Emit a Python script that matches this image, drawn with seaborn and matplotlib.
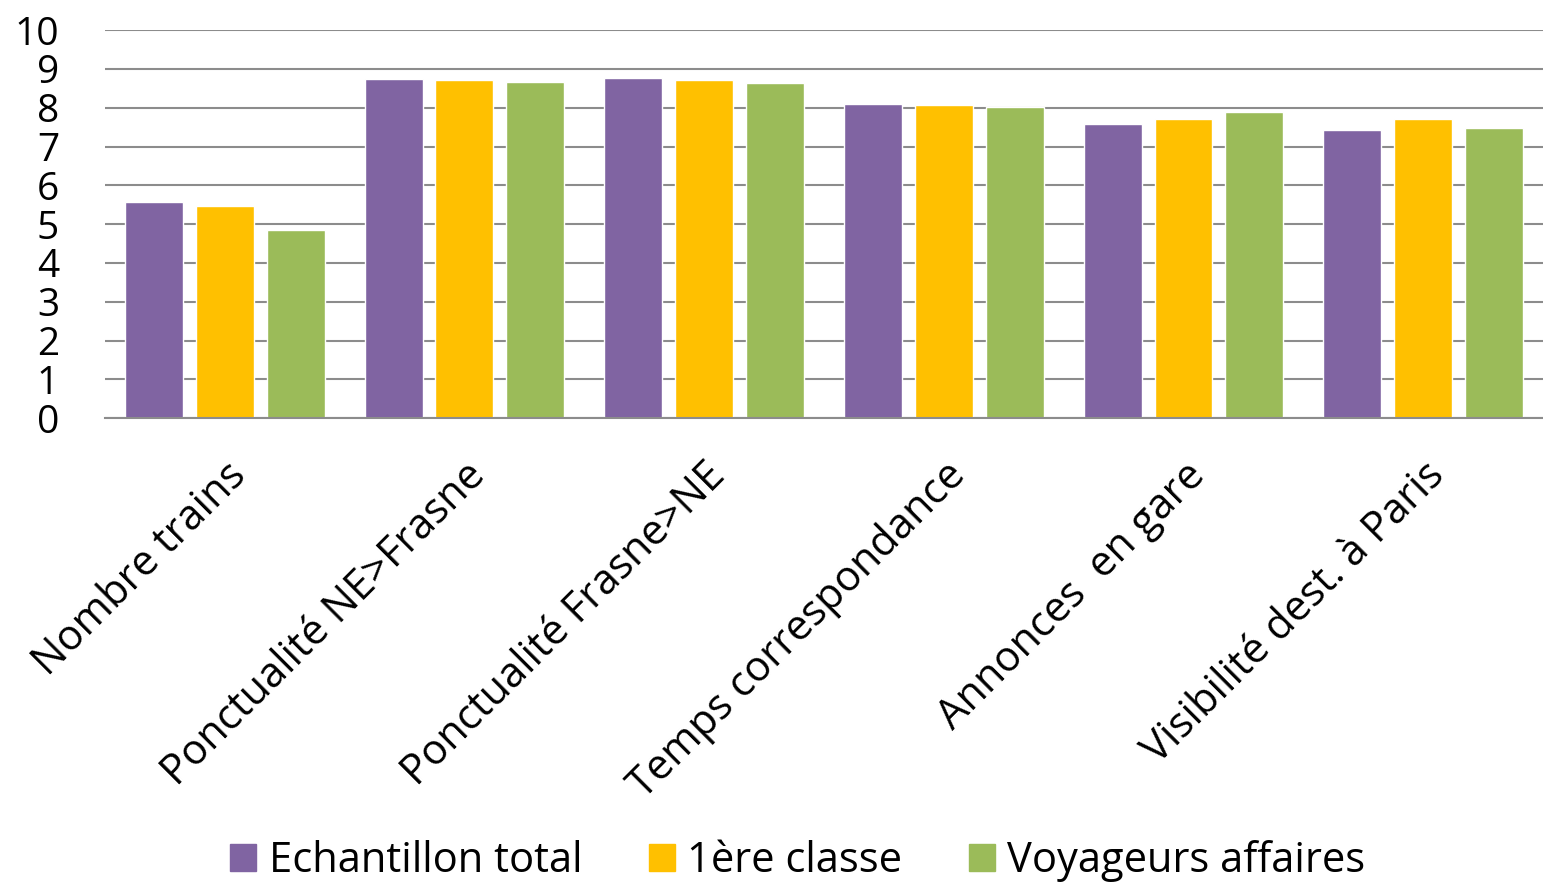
import pandas as pd
import matplotlib.pyplot as plt
import seaborn as sns
from matplotlib.patches import Patch

categories = ['Nombre trains', 'Ponctualité NE>Frasne', 'Ponctualité Frasne>NE',
              'Temps correspondance', 'Annonces  en gare', 'Visibilité dest. à Paris']
series_names = ['Echantillon total', '1ère classe', 'Voyageurs affaires']
total = [5.56, 8.75, 8.76, 8.10, 7.58, 7.43]
premiere = [5.48, 8.72, 8.71, 8.07, 7.72, 7.70]
affaires = [4.85, 8.66, 8.65, 8.03, 7.90, 7.49]
colors = ['#8064A2', '#FFC000', '#9BBB59']

sns.set_theme(style='white')
plt.rcParams['font.family'] = ['Open Sans', 'DejaVu Sans']
plt.rcParams['text.color'] = 'black'

df = pd.DataFrame({'cat': categories * 3,
                   'serie': sum([[s] * len(categories) for s in series_names], []),
                   'val': total + premiere + affaires})

fig = plt.figure(figsize=(15.43, 8.86), dpi=100)
ax = fig.add_axes([0.068, 0.528, 0.932, 0.438])

sns.barplot(data=df, x='cat', y='val', hue='serie', palette=colors,
            width=0.8875, gap=0.183, ax=ax, legend=False, saturation=1)

ax.set_ylim(0, 10)
ax.set_xlim(-0.5, 5.5)
ax.set_yticks(range(0, 11))
ax.yaxis.grid(True, color='#8c8c8c', linewidth=1.5)
ax.set_axisbelow(True)
for s in ['left', 'right', 'top']:
    ax.spines[s].set_visible(False)
ax.spines['bottom'].set_color('#8c8c8c')
ax.spines['bottom'].set_linewidth(1.5)
ax.tick_params(axis='y', length=0, labelsize=28, pad=33, labelcolor='black')
ax.tick_params(axis='x', length=0, labelsize=30, pad=26, labelcolor='black')
plt.setp(ax.get_xticklabels(), rotation=45, ha='right', rotation_mode='anchor')
ax.set_xlabel('')
ax.set_ylabel('')

handles = [Patch(color=c, label=n) for c, n in zip(colors, series_names)]
fig.legend(handles=handles, loc='lower center', bbox_to_anchor=(0.517, -0.038),
           ncol=3, frameon=False, fontsize=30, handlelength=0.62, handleheight=0.62,
           columnspacing=1.6, handletextpad=0.3)

fig.savefig('out.png', dpi=100)
